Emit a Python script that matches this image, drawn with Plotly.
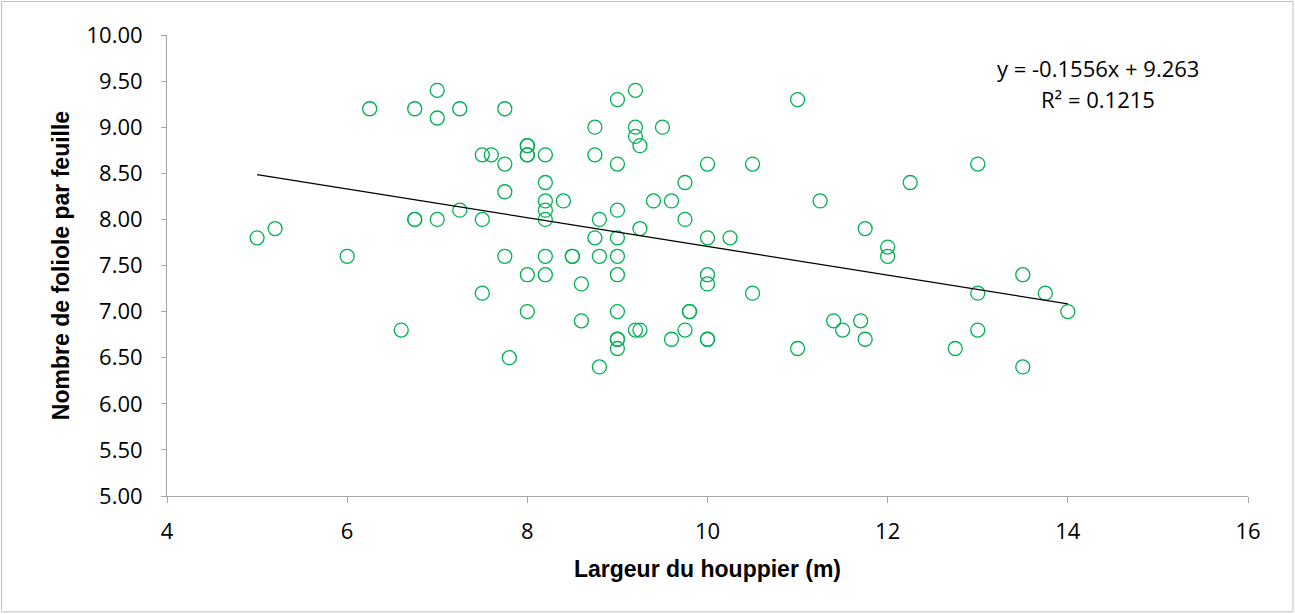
import plotly.graph_objects as go

# Crown width (m) and leaflet count per leaf, one entry per tree
largeur_houppier = [
    7.0, 6.25, 6.75, 7.0, 7.25, 7.75, 8.0, 8.0, 8.0, 8.0,
    7.5, 7.6, 8.2, 7.75, 8.2, 7.75, 8.2, 8.2, 8.2, 8.4,
    7.25, 6.75, 6.75, 7.0, 7.5, 5.2, 5.0, 6.0, 7.75, 8.2,
    8.0, 8.2, 7.5, 8.0, 6.6, 7.8, 9.2, 9.0, 8.75, 9.2,
    9.2, 9.25, 9.5, 11.0, 8.75, 9.0, 10.0, 10.5, 9.75, 12.25,
    9.4, 9.6, 11.25, 9.0, 8.8, 9.75, 9.25, 11.75, 8.75, 9.0,
    10.0, 10.25, 12.0, 12.0, 8.5, 8.5, 8.8, 9.0, 8.6, 9.0,
    10.0, 10.0, 10.5, 9.0, 9.8, 9.8, 8.6, 9.2, 9.25, 9.75,
    9.0, 9.0, 9.0, 9.6, 10.0, 10.0, 11.0, 11.4, 11.5, 11.7,
    11.75, 8.8, 13.0, 13.5, 13.0, 13.75, 14.0, 13.0, 12.75, 13.5,
]
nombre_folioles = [
    9.4, 9.2, 9.2, 9.1, 9.2, 9.2, 8.8, 8.8, 8.7, 8.7,
    8.7, 8.7, 8.7, 8.6, 8.4, 8.3, 8.2, 8.1, 8.0, 8.2,
    8.1, 8.0, 8.0, 8.0, 8.0, 7.9, 7.8, 7.6, 7.6, 7.6,
    7.4, 7.4, 7.2, 7.0, 6.8, 6.5, 9.4, 9.3, 9.0, 9.0,
    8.9, 8.8, 9.0, 9.3, 8.7, 8.6, 8.6, 8.6, 8.4, 8.4,
    8.2, 8.2, 8.2, 8.1, 8.0, 8.0, 7.9, 7.9, 7.8, 7.8,
    7.8, 7.8, 7.7, 7.6, 7.6, 7.6, 7.6, 7.6, 7.3, 7.4,
    7.4, 7.3, 7.2, 7.0, 7.0, 7.0, 6.9, 6.8, 6.8, 6.8,
    6.7, 6.7, 6.6, 6.7, 6.7, 6.7, 6.6, 6.9, 6.8, 6.9,
    6.7, 6.4, 8.6, 7.4, 7.2, 7.2, 7.0, 6.8, 6.6, 6.4,
]

# Linear trend line (as stated in the equation label)
pente = -0.1556
ordonnee = 9.263
r_carre = 0.1215

x_tick_vals = [4, 6, 8, 10, 12, 14, 16]
y_tick_vals = [5.0, 5.5, 6.0, 6.5, 7.0, 7.5, 8.0, 8.5, 9.0, 9.5, 10.0]

x_min = min(largeur_houppier)
x_max = max(largeur_houppier)
trend_x = [x_min, x_max]
trend_y = [pente * v + ordonnee for v in trend_x]

W, H = 1295, 614
M_L, M_R, M_T, M_B = 167, 46.5, 35, 117.5
PW = W - M_L - M_R
PH = H - M_T - M_B

AXIS_GREY = "#A6A6A6"
GREEN = "#00B050"
TICK_FONT = dict(family="Open Sans, DejaVu Sans, sans-serif", size=22, color="#000000")
TITLE_FONT = dict(family="Liberation Sans, Arial, sans-serif", size=23, color="#000000")

fig = go.Figure()

fig.add_trace(go.Scatter(
    x=largeur_houppier,
    y=nombre_folioles,
    mode="markers",
    marker=dict(symbol="circle-open", size=14, color=GREEN, line=dict(width=1.3, color=GREEN)),
    showlegend=False,
    hoverinfo="x+y",
))

fig.add_trace(go.Scatter(
    x=trend_x,
    y=trend_y,
    mode="lines",
    line=dict(color="#000000", width=1.3),
    showlegend=False,
    hoverinfo="skip",
))

fig.update_layout(
    width=W,
    height=H,
    margin=dict(l=M_L, r=M_R, t=M_T, b=M_B, pad=0),
    paper_bgcolor="#FFFFFF",
    plot_bgcolor="#FFFFFF",
    xaxis=dict(
        range=[4, 16],
        tickvals=x_tick_vals,
        ticktext=[str(v) for v in x_tick_vals],
        showgrid=False,
        zeroline=False,
        showline=True,
        linecolor=AXIS_GREY,
        linewidth=1,
        ticks="outside",
        ticklen=6,
        tickcolor=AXIS_GREY,
        tickfont=TICK_FONT,
        ticklabelstandoff=10,
        title=dict(text="<b>Largeur du houppier (m)</b>", font=TITLE_FONT, standoff=16),
    ),
    yaxis=dict(
        range=[5, 10],
        tickvals=y_tick_vals,
        ticktext=[f"{v:.2f}" for v in y_tick_vals],
        showgrid=False,
        zeroline=False,
        showline=True,
        linecolor=AXIS_GREY,
        linewidth=1,
        ticks="outside",
        ticklen=5,
        tickcolor=AXIS_GREY,
        tickfont=TICK_FONT,
        ticklabelstandoff=14,
        title=dict(text="<b>Nombre de foliole par feuille</b>", font=TITLE_FONT, standoff=10),
    ),
)

# Equation and R² of the trend line
eq_font = dict(family="Open Sans, DejaVu Sans, sans-serif", size=22, color="#000000")
fig.add_annotation(
    xref="paper", yref="paper",
    x=(1098 - M_L) / PW, y=(H - M_B - 68) / PH,
    text=f"y = {pente:.4f}x + {ordonnee:.3f}",
    showarrow=False, font=eq_font, xanchor="center", yanchor="middle",
)
fig.add_annotation(
    xref="paper", yref="paper",
    x=(1098 - M_L) / PW, y=(H - M_B - 99) / PH,
    text=f"R² = {r_carre:.4f}",
    showarrow=False, font=eq_font, xanchor="center", yanchor="middle",
)

# Light frame around the whole chart area
fig.add_shape(
    type="rect", xref="paper", yref="paper",
    x0=(1.5 - M_L) / PW, x1=(W - 1.5 - M_L) / PW,
    y0=(H - M_B - (H - 1.5)) / PH, y1=(H - M_B - 1.5) / PH,
    line=dict(color="#BFBFBF", width=1),
    fillcolor="rgba(0,0,0,0)",
    layer="below",
)

fig.write_html("out.html")
